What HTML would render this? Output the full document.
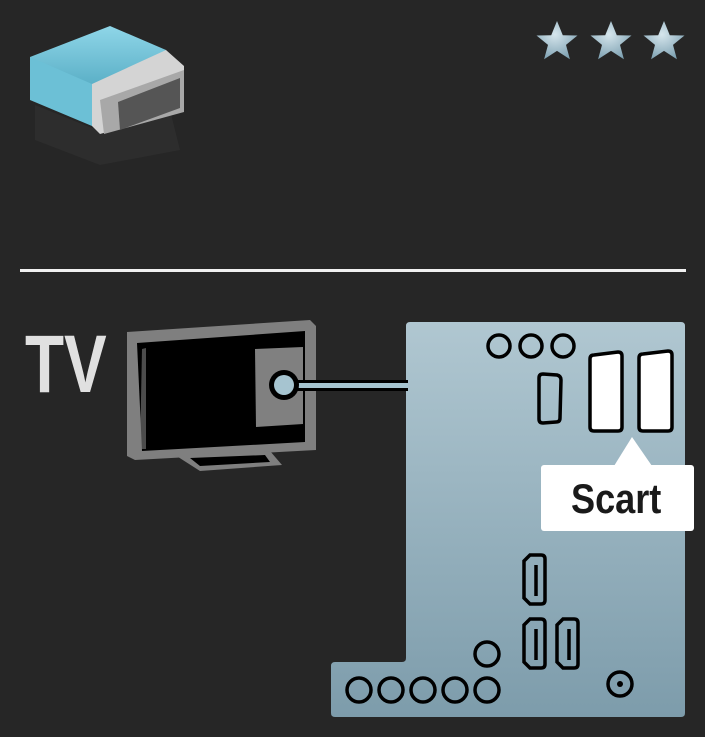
<!DOCTYPE html>
<html><head><style>
html,body{margin:0;padding:0;background:#262626;}
svg{display:block;}
</style></head><body>
<svg width="705" height="737" viewBox="0 0 705 737" xmlns="http://www.w3.org/2000/svg">
<defs>
<linearGradient id="pg" x1="0" y1="0" x2="0" y2="1">
<stop offset="0" stop-color="#b0c7d1"/><stop offset="1" stop-color="#7d9cab"/></linearGradient>
<radialGradient id="sg" cx="0.45" cy="0.35" r="0.7">
<stop offset="0" stop-color="#d6e6ed"/><stop offset="1" stop-color="#7b9fb0"/></radialGradient>
<linearGradient id="bl" x1="0" y1="0" x2="0" y2="1">
<stop offset="0" stop-color="#8fd6e8"/><stop offset="1" stop-color="#4aa3bc"/></linearGradient>
<path id="star" d="M0,-21 L5.8,-6.8 L20.5,-6.5 L9,2.9 L12.9,17.3 L0,8.9 L-12.9,17.3 L-9,2.9 L-20.5,-6.5 L-5.8,-6.8 Z"/>
</defs>
<rect width="705" height="737" fill="#262626"/>
<!-- connector icon -->
<polygon points="35,105 92,128 170,110 180,150 100,165 35,140" fill="#2d2d2d"/>
<polygon points="30,57 110,26 166,50 166,80 92,104 30,78" fill="url(#bl)"/>
<polygon points="30,57 92,84 92,126 30,100" fill="#6cc0d6"/>
<polygon points="92,84 166,50 184,66 184,110 100,134 92,126" fill="#d4d4d4"/>
<polygon points="100,100 184,70 184,112 104,134" fill="#a8a8a8"/>
<polygon points="118,102 180,78 180,108 120,130" fill="#555"/>
<!-- stars -->
<use href="#star" x="557" y="42" fill="url(#sg)"/>
<use href="#star" x="611" y="42" fill="url(#sg)"/>
<use href="#star" x="664" y="42" fill="url(#sg)"/>
<!-- separator -->
<rect x="20" y="269" width="666" height="3" fill="#f0f0f0"/>
<!-- TV text -->
<text x="0" y="392" font-family="Liberation Sans, sans-serif" font-weight="bold" font-size="82" fill="#e0e0e0" transform="translate(25,0) scale(0.78,1)">TV</text>
<!-- TV -->
<polygon points="127,332 310,320 316,326 316,450 135,460 127,456" fill="#7f7f7f"/>
<polygon points="137,343 305,331 305,442 142,451" fill="#000"/>
<polygon points="142,349 140,449 146,449 146,348" fill="#7f7f7f" opacity="0.6"/>
<polygon points="175,455 270,451 282,465 200,471" fill="#7f7f7f"/>
<polygon points="190,458 265,455 270,462 200,466" fill="#000"/>
<polygon points="255,349 303,347 303,424 256,427" fill="#808080"/>
<!-- panel -->
<path d="M410,322 H681 Q685,322 685,326 V713 Q685,717 681,717 H335 Q331,717 331,713 V666 Q331,662 335,662 H402 Q406,662 406,658 V326 Q406,322 410,322 Z" fill="url(#pg)"/>
<!-- cable -->
<rect x="288" y="380" width="120" height="11" fill="#000"/>
<rect x="288" y="383" width="120" height="5" fill="#a6c4d0"/>
<circle cx="284" cy="385" r="15" fill="#000"/>
<circle cx="284" cy="385" r="10" fill="#a6c4d0"/>
<!-- ports -->
<g fill="none" stroke="#000" stroke-width="3.5">
<circle cx="499" cy="346" r="11"/><circle cx="531" cy="346" r="11"/><circle cx="563" cy="346" r="11"/>
<path d="M543,374 L557,375 Q561,376 561,380 L560,418 Q560,422 556,422 L543,423 Q539,423 539,419 V378 Q539,374 543,374 Z"/>
<circle cx="487" cy="654" r="12"/>
<circle cx="359" cy="690" r="12"/><circle cx="391" cy="690" r="12"/><circle cx="423" cy="690" r="12"/><circle cx="455" cy="690" r="12"/><circle cx="487" cy="690" r="12"/>
<circle cx="620" cy="684" r="12"/>
<path d="M530,555 H541 Q545,555 545,559 V600 Q545,604 541,604 H530 L524,598 V561 Z"/>
<path d="M530,619 H541 Q545,619 545,623 V664 Q545,668 541,668 H530 L524,662 V625 Z"/>
<path d="M563,619 H574 Q578,619 578,623 V664 Q578,668 574,668 H563 L557,662 V625 Z"/>
<path d="M536,565 V596 M569,629 V660 M536,629 V660"/>
</g>
<circle cx="620" cy="684" r="3" fill="#000"/>
<path d="M594,355 L618,352 Q622,352 622,356 V427 Q622,431 618,431 H594 Q590,431 590,427 V359 Q590,355 594,355 Z" fill="#fff" stroke="#000" stroke-width="3.5"/>
<path d="M643,354 L668,351 Q672,351 672,355 V427 Q672,431 668,431 H643 Q639,431 639,427 V358 Q639,354 643,354 Z" fill="#fff" stroke="#000" stroke-width="3.5"/>
<!-- label -->
<polygon points="632,437 614,466 652,466" fill="#fff"/>
<rect x="541" y="465" width="153" height="66" rx="3" fill="#fff"/>
<text x="0" y="513" font-family="Liberation Sans, sans-serif" font-weight="bold" font-size="42" fill="#1a1a1a" transform="translate(571,0) scale(0.86,1)">Scart</text>
</svg>
</body></html>
